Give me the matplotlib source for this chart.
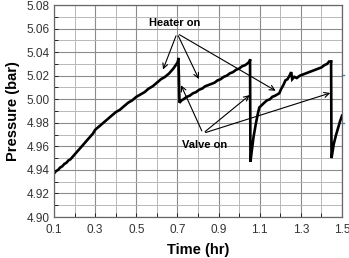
import matplotlib
matplotlib.use("Agg")
import matplotlib.pyplot as plt
from matplotlib.ticker import MultipleLocator

plt.rcParams['font.family'] = ['Liberation Sans', 'DejaVu Sans']

# Segment 1 (heater on, first ramp)
t1 = [0.100, 0.110, 0.120, 0.130, 0.140, 0.150, 0.160, 0.170, 0.180, 0.190,
      0.200, 0.215, 0.230, 0.245, 0.260, 0.275, 0.290, 0.300, 0.320, 0.340,
      0.360, 0.380, 0.400, 0.420, 0.440, 0.460, 0.480, 0.500, 0.520, 0.540,
      0.560, 0.580, 0.600, 0.620, 0.640, 0.660, 0.680, 0.700, 0.705]
p1 = [4.937, 4.939, 4.940, 4.942, 4.943, 4.945, 4.946, 4.948, 4.949, 4.951,
      4.953, 4.956, 4.959, 4.962, 4.965, 4.968, 4.971, 4.974, 4.977, 4.980,
      4.983, 4.986, 4.989, 4.991, 4.994, 4.997, 4.999, 5.002, 5.004, 5.006,
      5.009, 5.011, 5.014, 5.017, 5.019, 5.022, 5.026, 5.031, 5.034]

# Segment 2 (after first valve event)
t2 = [0.705, 0.710, 0.720, 0.730, 0.745, 0.760, 0.775, 0.790, 0.805, 0.820,
      0.835, 0.850, 0.865, 0.880, 0.895, 0.910, 0.925, 0.940, 0.955, 0.970,
      0.985, 1.000, 1.015, 1.030, 1.045, 1.053]
p2 = [5.034, 4.997, 4.999, 5.000, 5.002, 5.003, 5.005, 5.006, 5.008, 5.009,
      5.011, 5.012, 5.013, 5.014, 5.016, 5.017, 5.019, 5.020, 5.022, 5.023,
      5.025, 5.026, 5.028, 5.029, 5.031, 5.033]

# Segment 3 (after second valve event)
t3 = [1.053, 1.055, 1.062, 1.070, 1.080, 1.090, 1.098, 1.110, 1.122, 1.135,
      1.150, 1.161, 1.175, 1.185, 1.195, 1.205, 1.215, 1.225, 1.235, 1.245,
      1.253, 1.258, 1.268, 1.280, 1.295, 1.310, 1.325, 1.340, 1.355, 1.370,
      1.385, 1.400, 1.415, 1.428, 1.437, 1.447]
p3 = [5.033, 4.947, 4.957, 4.968, 4.978, 4.987, 4.993, 4.995, 4.997, 4.999,
      5.000, 5.002, 5.003, 5.004, 5.005, 5.009, 5.012, 5.016, 5.017, 5.020,
      5.023, 5.017, 5.019, 5.018, 5.020, 5.021, 5.022, 5.023, 5.024, 5.025,
      5.026, 5.027, 5.029, 5.030, 5.032, 5.032]

# Segment 4 (after third valve event)
t4 = [1.447, 1.449, 1.460, 1.470, 1.480, 1.490, 1.500]
p4 = [5.032, 4.950, 4.962, 4.969, 4.975, 4.981, 4.986]

# stray secondary-series marks at the right edge
edge_marks = [5.0206, 4.980]

x_ticks = [0.1, 0.3, 0.5, 0.7, 0.9, 1.1, 1.3, 1.5]
x_labels = ["0.1", "0.3", "0.5", "0.7", "0.9", "1.1", "1.3", "1.5"]
y_ticks = [4.90, 4.92, 4.94, 4.96, 4.98, 5.00, 5.02, 5.04, 5.06, 5.08]
y_labels = ["4.90", "4.92", "4.94", "4.96", "4.98", "5.00", "5.02", "5.04", "5.06", "5.08"]

# annotation anchor/targets (data coords)
heater_text = (0.688, 5.065)
heater_from = (0.698, 5.056)
heater_to = [(0.625, 5.023), (0.81, 5.015), (1.189, 5.006)]
valve_text = (0.834, 4.961)
valve_from = (0.824, 4.971)
valve_to = [(0.712, 5.014), (1.062, 5.005), (1.456, 5.006)]

fig = plt.figure(figsize=(3.49, 2.58), dpi=100)
ax = fig.add_axes([54/349, 1-217/258, (342-54)/349, (217-5)/258])

ax.set_xlim(0.1, 1.5)
ax.set_ylim(4.90, 5.08)
ax.xaxis.set_minor_locator(MultipleLocator(0.1))
ax.yaxis.set_minor_locator(MultipleLocator(0.01))
ax.set_xticks(x_ticks)
ax.set_xticklabels(x_labels)
ax.set_yticks(y_ticks)
ax.set_yticklabels(y_labels)
ax.grid(which='major', color='#8c8c8c', lw=0.8)
ax.grid(which='minor', color='#b8b8b8', lw=0.7)
ax.set_axisbelow(True)
ax.tick_params(which='both', direction='in', length=3, width=0.7, labelsize=8.5, colors='#222222', pad=3)
ax.tick_params(axis='x', pad=5)
ax.tick_params(axis='both', labelcolor='#333333')
for s in ax.spines.values():
    s.set_color('#666666')
    s.set_linewidth(0.9)

for t, p in [(t1, p1), (t2, p2), (t3, p3), (t4, p4)]:
    ax.plot(t, p, color='black', lw=1.9, solid_joinstyle='miter')

for m in edge_marks:
    ax.plot([1.5, 1.512], [m, m], color='#4a7ebb', lw=1.0, clip_on=False)

ax.set_xlabel("Time (hr)", fontsize=10.5, fontweight='bold', labelpad=5)
ax.set_ylabel("Pressure (bar)", fontsize=10.5, fontweight='bold', labelpad=5)

ax.text(*heater_text, "Heater on", fontsize=8, fontweight='bold', ha='center', va='center')
for tgt in heater_to:
    ax.annotate("", xy=tgt, xytext=heater_from,
                arrowprops=dict(arrowstyle='->', color='black', lw=0.8, mutation_scale=9))
ax.text(*valve_text, "Valve on", fontsize=8, fontweight='bold', ha='center', va='center')
for tgt in valve_to:
    ax.annotate("", xy=tgt, xytext=valve_from,
                arrowprops=dict(arrowstyle='->', color='black', lw=0.8, mutation_scale=9))

fig.savefig("out.png", dpi=100)
